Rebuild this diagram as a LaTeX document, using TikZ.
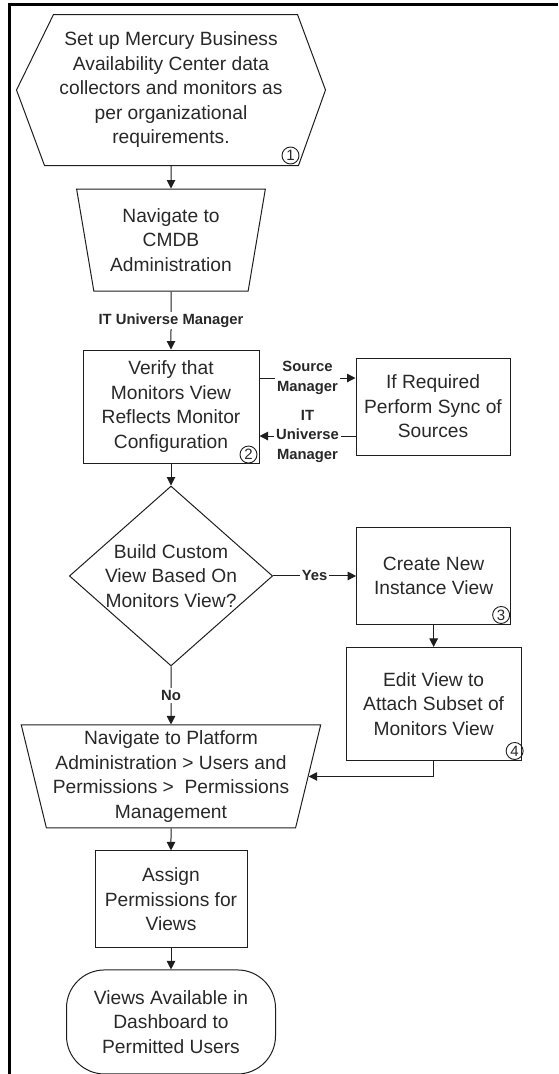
\documentclass[tikz,border=0pt]{standalone}
\usepackage{fontspec}
\setmainfont{Liberation Sans}
\usepackage{tikz}
\usetikzlibrary{arrows.meta, positioning, shapes.geometric}

\begin{document}
\begin{tikzpicture}[x=1pt, y=1pt,
    outline/.style={draw=linecolor, line width=1pt},
    box/.style={rectangle, outline, align=center, text=textcolor, font=\fontsize{19.2}{24.5}\selectfont},
    navbox/.style={box, trapezium, trapezium stretches=true, shape border rotate=180},
    decision/.style={box, diamond, aspect=1.13, inner sep=0pt},
    stepnum/.style={circle, draw=linecolor, line width=0.9pt, inner sep=0pt, minimum size=17pt, text=textcolor, font=\fontsize{15}{15}\selectfont},
    edgelabel/.style={fill=white, align=center, text=textcolor, inner sep=2pt, font=\bfseries\fontsize{14.8}{19.5}\selectfont},
    arrow/.style={-{Triangle[length=8.5pt, width=8.5pt]}, line width=1pt, draw=linecolor},
    frame/.style={line width=2.2pt, draw=black}]

    % Define colors
    \definecolor{linecolor}{RGB}{30,30,30}
    \definecolor{textcolor}{RGB}{40,40,40}

    \useasboundingbox (0,0) rectangle (558,-1074);
    \draw[frame] (9.5,-1074) -- (9.5,-4.5) -- (558,-4.5);

    % Nodes
    \node[box, draw=none, minimum width=308pt, minimum height=150pt] (setup) at (171,-90) {Set up Mercury Business\\Availability Center data\\collectors and monitors as\\per organizational\\requirements.};
    \draw[outline] (setup.west) -- ([xshift=37pt]setup.north west) -- ([xshift=-28pt]setup.north east) -- (setup.east) -- ([xshift=-27pt]setup.south east) -- ([xshift=28pt]setup.south west) -- cycle;
    \node[stepnum] at ([xshift=-35pt, yshift=10pt]setup.south east) {1};

    \node[navbox, trapezium left angle=78.4, trapezium right angle=78.4, minimum width=189pt, minimum height=102pt, below=23pt of setup] (cmdb) {Navigate to\\CMDB\\Administration};
    \node[box, minimum width=176pt, minimum height=113pt, below=58pt of cmdb] (verify) {Verify that\\Monitors View\\Reflects Monitor\\Configuration};
    \node[stepnum] at ([xshift=-11pt, yshift=9pt]verify.south east) {2};
    \node[box, minimum width=154pt, minimum height=97pt, right=96pt of verify] (sync) {If Required\\Perform Sync of\\Sources};

    \node[decision, minimum width=202pt, minimum height=179pt, below=22pt of verify] (custom) {Build Custom\\View Based On\\Monitors View?};
    \node[box, minimum width=154pt, minimum height=97pt, right=83pt of custom] (create) {Create New\\Instance View};
    \node[stepnum] at ([xshift=-10pt, yshift=10pt]create.south east) {3};
    \node[box, minimum width=175pt, minimum height=113pt, below=22pt of create] (attach) {Edit View to\\Attach Subset of\\Monitors View};
    \node[stepnum] at ([xshift=-7pt, yshift=10pt]attach.south east) {4};

    \node[navbox, trapezium left angle=75.6, trapezium right angle=75.6, minimum width=300pt, minimum height=103pt, inner ysep=2pt, below=58pt of custom] (platform) {Navigate to Platform\\Administration > Users and\\Permissions > \ Permissions\\Management};
    \node[box, minimum width=152pt, minimum height=97pt, below=22pt of platform] (assign) {Assign\\Permissions for\\Views};
    \node[box, rounded corners=38pt, minimum width=209pt, minimum height=104pt, below=21pt of assign] (done) {Views Available in\\Dashboard to\\Permitted Users};

    % Arrows with labels
    \draw[arrow] (setup.south) -- (cmdb);
    \draw[arrow] (cmdb) -- node[edgelabel] {IT Universe Manager} (verify);
    \draw[arrow] ([yshift=28.5pt]verify.east) -- node[edgelabel] {Source\\Manager} ([yshift=28.5pt]sync.west);
    \draw[arrow] ([yshift=-29.5pt]sync.west) -- node[edgelabel] {IT\\Universe\\Manager} ([yshift=-29.5pt]verify.east);
    \draw[arrow] (verify) -- (custom);
    \draw[arrow] (custom) -- node[edgelabel] {Yes} (create);
    \draw[arrow] (create) -- (attach);
    \draw[arrow] (custom) -- node[edgelabel] {No} (platform);
    \draw[arrow] (attach.south) |- (platform);
    \draw[arrow] (platform) -- (assign);
    \draw[arrow] (assign) -- (done);

\end{tikzpicture}
\end{document}
